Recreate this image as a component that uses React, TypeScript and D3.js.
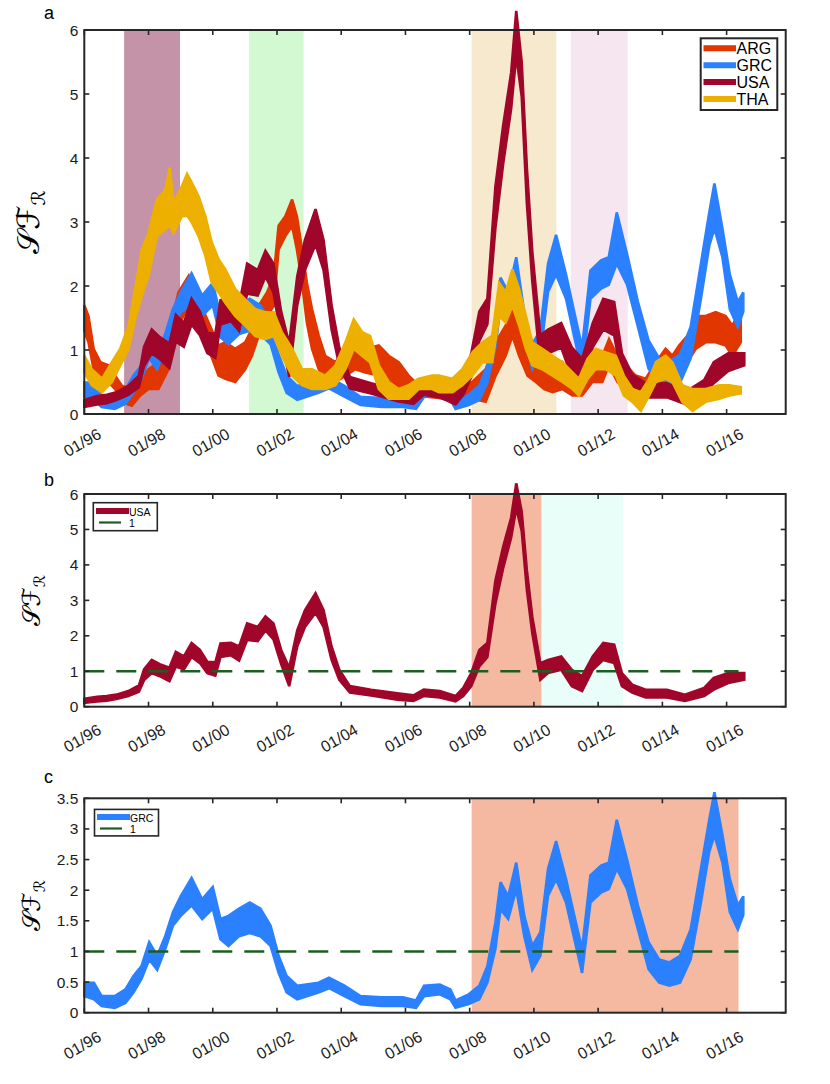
import React from "react";
import * as d3 from "d3";

// ---------- data : [time (years), low, high] ----------
const usa: [number, number, number][] = [
  [1996.0, 0.11, 0.22], [1996.4, 0.15, 0.28], [1996.7, 0.17, 0.3], [1997.0, 0.22, 0.34],
  [1997.37, 0.3, 0.44], [1997.7, 0.42, 0.6], [1997.86, 0.75, 1.05], [1998.1, 0.95, 1.32],
  [1998.35, 0.86, 1.2], [1998.65, 0.72, 1.1], [1998.85, 1.13, 1.55], [1999.1, 1.05, 1.42],
  [1999.34, 1.4, 1.8], [1999.6, 1.23, 1.6], [1999.83, 0.95, 1.27], [2000.08, 0.88, 1.25],
  [2000.24, 1.4, 1.78], [2000.57, 1.45, 1.8], [2000.82, 1.3, 1.7], [2001.07, 1.88, 2.35],
  [2001.4, 1.85, 2.25], [2001.64, 2.15, 2.55], [2001.89, 1.9, 2.35], [2002.13, 1.2, 1.6],
  [2002.38, 0.58, 1.1], [2002.63, 1.7, 2.15], [2002.87, 2.25, 2.72], [2003.2, 2.65, 3.2],
  [2003.45, 2.25, 2.72], [2003.7, 1.32, 1.7], [2003.94, 0.76, 1.04], [2004.27, 0.4, 0.58],
  [2004.93, 0.32, 0.48], [2005.75, 0.2, 0.38], [2006.25, 0.16, 0.32], [2006.57, 0.3, 0.48],
  [2007.07, 0.26, 0.44], [2007.56, 0.15, 0.3], [2007.8, 0.3, 0.53], [2008.05, 0.58, 0.95],
  [2008.3, 1.14, 1.6], [2008.55, 1.4, 1.8], [2008.8, 2.9, 3.55], [2009.04, 3.9, 4.5],
  [2009.29, 4.77, 5.33], [2009.45, 5.6, 6.3], [2009.62, 4.96, 5.5], [2009.78, 3.3, 3.85],
  [2009.95, 2.07, 2.53], [2010.2, 0.76, 1.23], [2010.44, 0.95, 1.32], [2010.85, 1.04, 1.42],
  [2011.18, 0.58, 1.04], [2011.5, 0.44, 0.86], [2011.83, 1.04, 1.42], [2012.16, 1.32, 1.8],
  [2012.5, 1.23, 1.75], [2012.74, 0.58, 0.95], [2013.06, 0.4, 0.62], [2013.48, 0.26, 0.48],
  [2014.14, 0.26, 0.48], [2014.7, 0.16, 0.34], [2015.3, 0.3, 0.53], [2015.6, 0.48, 0.81],
  [2016.05, 0.67, 0.95], [2016.55, 0.76, 0.95],
];

const grc: [number, number, number][] = [
  [1996.0, 0.27, 0.49], [1996.3, 0.22, 0.49], [1996.54, 0.11, 0.27], [1996.95, 0.08, 0.27],
  [1997.28, 0.16, 0.38], [1997.53, 0.33, 0.6], [1997.78, 0.55, 0.76], [1998.02, 0.87, 1.15],
  [1998.27, 0.7, 0.93], [1998.52, 1.04, 1.25], [1998.76, 1.42, 1.64], [1999.0, 1.58, 1.9],
  [1999.34, 1.75, 2.2], [1999.67, 1.53, 1.85], [2000.0, 1.7, 2.05], [2000.24, 1.2, 1.53],
  [2000.49, 1.09, 1.58], [2000.82, 1.25, 1.7], [2001.15, 1.3, 1.8], [2001.48, 1.25, 1.7],
  [2001.8, 1.09, 1.42], [2002.05, 0.65, 0.93], [2002.3, 0.33, 0.6], [2002.63, 0.22, 0.44],
  [2003.29, 0.33, 0.49], [2003.62, 0.4, 0.57], [2004.1, 0.27, 0.44], [2004.6, 0.14, 0.27],
  [2005.26, 0.11, 0.25], [2005.92, 0.11, 0.25], [2006.33, 0.08, 0.2], [2006.58, 0.27, 0.44],
  [2007.07, 0.3, 0.46], [2007.4, 0.22, 0.38], [2007.56, 0.08, 0.2], [2007.97, 0.14, 0.3],
  [2008.3, 0.22, 0.44], [2008.55, 0.49, 0.76], [2008.8, 1.04, 1.47], [2008.96, 1.69, 2.13],
  [2009.2, 1.53, 1.9], [2009.45, 2.02, 2.45], [2009.7, 1.25, 1.58], [2009.95, 0.7, 1.09],
  [2010.2, 0.93, 1.31], [2010.44, 1.91, 2.35], [2010.69, 2.18, 2.8], [2011.0, 1.8, 2.18],
  [2011.26, 1.2, 1.58], [2011.5, 0.65, 1.04], [2011.76, 1.8, 2.24], [2012.09, 1.96, 2.4],
  [2012.33, 2.02, 2.45], [2012.58, 2.35, 3.15], [2012.9, 2.02, 2.5], [2013.24, 1.36, 1.75],
  [2013.57, 0.71, 1.15], [2013.9, 0.49, 0.87], [2014.22, 0.44, 0.82], [2014.55, 0.49, 0.93],
  [2014.88, 0.87, 1.36], [2015.2, 1.8, 2.35], [2015.46, 2.63, 3.15], [2015.62, 2.9, 3.6],
  [2015.87, 2.45, 2.9], [2016.1, 1.64, 2.18], [2016.35, 1.36, 1.75], [2016.52, 1.6, 1.9],
];

const arg: [number, number, number][] = [
  [1996.0, 1.3, 1.7], [1996.13, 1.12, 1.53], [1996.29, 0.7, 1.02], [1996.5, 0.5, 0.81],
  [1996.75, 0.5, 0.76], [1996.96, 0.39, 0.6], [1997.17, 0.19, 0.44], [1997.48, 0.13, 0.39],
  [1997.74, 0.29, 0.55], [1998.0, 0.39, 0.7], [1998.31, 0.39, 0.81], [1998.62, 0.7, 1.22],
  [1998.93, 1.38, 1.9], [1999.25, 1.69, 2.16], [1999.56, 1.33, 1.79], [1999.87, 1.02, 1.43],
  [2000.18, 0.6, 1.07], [2000.39, 0.55, 1.12], [2000.7, 0.5, 1.02], [2001.01, 0.7, 1.12],
  [2001.22, 0.91, 1.33], [2001.43, 1.22, 1.69], [2001.69, 1.53, 1.9], [2001.9, 1.69, 2.16],
  [2002.05, 2.57, 2.94], [2002.26, 2.78, 3.09], [2002.47, 2.94, 3.35], [2002.62, 2.57, 3.09],
  [2002.78, 2.05, 2.57], [2002.93, 1.43, 2.05], [2003.09, 1.02, 1.64], [2003.3, 0.7, 1.22],
  [2003.5, 0.55, 0.91], [2003.82, 0.5, 0.81], [2004.13, 0.6, 1.02], [2004.44, 0.7, 1.07],
  [2004.75, 0.65, 1.02], [2005.17, 0.6, 1.07], [2005.48, 0.5, 0.91], [2005.79, 0.39, 0.81],
  [2006.1, 0.34, 0.6], [2006.3, 0.29, 0.5], [2007.04, 0.25, 0.45], [2007.67, 0.19, 0.39],
  [2008.08, 0.24, 0.5], [2008.5, 0.19, 0.7], [2008.81, 0.6, 1.12], [2009.12, 0.91, 1.38],
  [2009.33, 1.22, 1.64], [2009.54, 0.91, 1.38], [2009.8, 0.6, 1.02], [2010.06, 0.5, 0.91],
  [2010.32, 0.39, 0.76], [2010.58, 0.34, 0.7], [2010.89, 0.39, 0.81], [2011.2, 0.29, 0.55],
  [2011.5, 0.29, 0.6], [2011.82, 0.5, 0.81], [2012.13, 0.5, 0.91], [2012.34, 0.76, 1.17],
  [2012.6, 0.5, 0.91], [2012.86, 0.39, 0.76], [2013.17, 0.39, 0.6], [2013.48, 0.34, 0.55],
  [2013.8, 0.5, 0.81], [2014.1, 0.7, 1.02], [2014.31, 0.6, 0.91], [2014.52, 0.7, 1.07],
  [2014.78, 0.81, 1.22], [2015.04, 1.02, 1.53], [2015.35, 1.12, 1.53], [2015.66, 1.12, 1.59],
  [2015.97, 1.07, 1.53], [2016.18, 0.91, 1.38], [2016.44, 1.12, 1.64],
];

const tha: [number, number, number][] = [
  [1996.0, 0.65, 0.91], [1996.23, 0.45, 0.7], [1996.55, 0.34, 0.55], [1996.86, 0.5, 0.81],
  [1997.12, 0.76, 1.02], [1997.38, 1.02, 1.38], [1997.58, 1.48, 1.95], [1997.79, 1.85, 2.57],
  [1998.0, 2.16, 2.83], [1998.26, 2.78, 3.35], [1998.52, 2.88, 3.5], [1998.66, 2.95, 3.85],
  [1998.78, 2.83, 3.3], [1999.04, 3.09, 3.56], [1999.2, 3.1, 3.75], [1999.35, 2.99, 3.61],
  [1999.56, 2.78, 3.4], [1999.77, 2.47, 3.09], [1999.97, 2.05, 2.68], [2000.18, 1.9, 2.42],
  [2000.39, 1.74, 2.26], [2000.7, 1.53, 1.95], [2001.01, 1.38, 1.79], [2001.32, 1.22, 1.64],
  [2001.63, 1.17, 1.59], [2001.9, 1.22, 1.59], [2002.15, 0.91, 1.28], [2002.47, 0.6, 1.02],
  [2002.78, 0.45, 0.7], [2003.09, 0.39, 0.7], [2003.5, 0.39, 0.6], [2003.82, 0.45, 0.76],
  [2004.13, 0.7, 1.12], [2004.39, 1.02, 1.48], [2004.65, 0.91, 1.28], [2004.9, 0.81, 1.22],
  [2005.17, 0.39, 0.76], [2005.48, 0.24, 0.5], [2005.79, 0.24, 0.39], [2006.1, 0.24, 0.45],
  [2006.41, 0.39, 0.55], [2006.83, 0.39, 0.6], [2007.04, 0.34, 0.6], [2007.46, 0.34, 0.55],
  [2007.77, 0.45, 0.7], [2008.08, 0.6, 0.96], [2008.4, 0.81, 1.12], [2008.7, 0.81, 1.22],
  [2008.92, 1.53, 2.05], [2009.12, 1.43, 1.9], [2009.33, 1.69, 2.26], [2009.54, 1.38, 1.95],
  [2009.75, 1.02, 1.53], [2009.95, 0.76, 1.12], [2010.26, 0.7, 1.02], [2010.58, 0.6, 0.91],
  [2010.89, 0.5, 0.81], [2011.2, 0.39, 0.65], [2011.4, 0.29, 0.55], [2011.67, 0.55, 0.86],
  [2011.92, 0.7, 1.02], [2012.24, 0.7, 0.96], [2012.55, 0.6, 0.91], [2012.8, 0.29, 0.6],
  [2013.07, 0.19, 0.39], [2013.33, 0.05, 0.34], [2013.59, 0.29, 0.55], [2013.8, 0.5, 0.81],
  [2014.1, 0.55, 0.91], [2014.31, 0.5, 0.81], [2014.62, 0.19, 0.45], [2014.94, 0.05, 0.39],
  [2015.35, 0.19, 0.39], [2015.77, 0.24, 0.45], [2016.08, 0.29, 0.45], [2016.44, 0.32, 0.42],
];

const xTickYears = [1996, 1998, 2000, 2002, 2004, 2006, 2008, 2010, 2012, 2014, 2016];
const xTickLabels = ["01/96", "01/98", "01/00", "01/02", "01/04", "01/06", "01/08", "01/10", "01/12", "01/14", "01/16"];
const yTicksAB = [0, 1, 2, 3, 4, 5, 6];
const yTicksC = [0, 0.5, 1, 1.5, 2, 2.5, 3, 3.5];
const yTickLabelsC = ["0", "0.5", "1", "1.5", "2", "2.5", "3", "3.5"];

// shaded periods [start, end, colour]
const shadesA: [number, number, string][] = [
  [1997.24, 1998.98, "#c493a7"],
  [2001.13, 2002.83, "#d3f9d3"],
  [2008.06, 2010.7, "#f7e9cd"],
  [2011.15, 2012.92, "#f6e6f0"],
];
const shadesB: [number, number, string][] = [
  [2008.06, 2010.24, "#f5b9a1"],
  [2010.24, 2012.78, "#e9fdf9"],
];
const shadesC: [number, number, string][] = [[2008.06, 2016.37, "#f5b9a1"]];

const seriesNames = ["ARG", "GRC", "USA", "THA"];
const seriesColors = ["#e23600", "#2a80ff", "#a0052a", "#edb000"];
const seriesData = [arg, grc, usa, tha];
const refLevel = 1;
const refRange = [1996, 2016.37];

// ---------- layout ----------
const W = 830, H = 1084;
const X0 = 84.3, X1 = 785.7;
const xDomain = [1996, 2017.84];
const FONT = "'Liberation Sans', Arial, Helvetica, sans-serif";
const SPINE = "#262626";

type Panel = {
  top: number; bottom: number; yMax: number; yTicks: number[]; yLabels: string[];
  label: string; labelY: number; tickLabelDy: number; ylabelSize: number;
};

const panels: Panel[] = [
  { top: 30, bottom: 414, yMax: 6, yTicks: yTicksAB, yLabels: yTicksAB.map(String), label: "a", labelY: 19, tickLabelDy: 28.5, ylabelSize: 31 },
  { top: 494, bottom: 706.7, yMax: 6, yTicks: yTicksAB, yLabels: yTicksAB.map(String), label: "b", labelY: 486, tickLabelDy: 31.5, ylabelSize: 25 },
  { top: 798.3, bottom: 1012.7, yMax: 3.5, yTicks: yTicksC, yLabels: yTickLabelsC, label: "c", labelY: 783, tickLabelDy: 32.5, ylabelSize: 25 },
];

const x = d3.scaleLinear().domain(xDomain).range([X0, X1]);

function Band({ data, color, y }: { data: [number, number, number][]; color: string; y: d3.ScaleLinear<number, number> }) {
  const area = d3.area<[number, number, number]>()
    .x(d => x(d[0]))
    .y0(d => y(d[1]))
    .y1(d => y(d[2]))
    .curve(d3.curveLinear);
  return <path d={area(data) || ""} fill={color} stroke={color} strokeWidth={2.6} strokeLinejoin="miter" strokeMiterlimit={3} />;
}

function Axes({ p, y }: { p: Panel; y: d3.ScaleLinear<number, number> }) {
  const tl = 5;
  return (
    <g>
      {xTickYears.map((t, i) => (
        <g key={"xt" + i}>
          <line x1={x(t)} x2={x(t)} y1={p.bottom} y2={p.bottom - tl} stroke={SPINE} strokeWidth={1.6} />
          <line x1={x(t)} x2={x(t)} y1={p.top} y2={p.top + tl} stroke={SPINE} strokeWidth={1.6} />
          <text transform={`translate(${x(t) - 2},${p.bottom + p.tickLabelDy}) rotate(-30)`}
            textAnchor="middle" dominantBaseline="central" fontSize={16} fontFamily={FONT} fill="#1a1a1a">
            {xTickLabels[i]}
          </text>
        </g>
      ))}
      {p.yTicks.map((v, i) => (
        <g key={"yt" + i}>
          <line x1={X0} x2={X0 + tl} y1={y(v)} y2={y(v)} stroke={SPINE} strokeWidth={1.6} />
          <line x1={X1} x2={X1 - tl} y1={y(v)} y2={y(v)} stroke={SPINE} strokeWidth={1.6} />
          <text x={X0 - 6} y={y(v)} textAnchor="end" dominantBaseline="central" fontSize={15.5} fontFamily={FONT} fill="#1a1a1a">
            {p.yLabels[i]}
          </text>
        </g>
      ))}
      <rect x={X0} y={p.top} width={X1 - X0} height={p.bottom - p.top} fill="none" stroke={SPINE} strokeWidth={2} />
    </g>
  );
}

function YLabel({ p }: { p: Panel }) {
  const cy = (p.top + p.bottom) / 2;
  const cx = p.label === "a" ? 39 : 40;
  return (
    <text transform={`translate(${cx},${cy}) rotate(-90)`} textAnchor="middle" fontSize={p.ylabelSize}
      fontFamily="'DejaVu Serif', 'DejaVu Sans', serif" fill="#000">
      <tspan>{"\u{1D4AE}\u2131"}</tspan>
      <tspan fontSize={p.ylabelSize * 0.62} dy={p.ylabelSize * 0.2}>{"\u211B"}</tspan>
    </text>
  );
}

export default function App() {
  const yA = d3.scaleLinear().domain([0, panels[0].yMax]).range([panels[0].bottom, panels[0].top]);
  const yB = d3.scaleLinear().domain([0, panels[1].yMax]).range([panels[1].bottom, panels[1].top]);
  const yC = d3.scaleLinear().domain([0, panels[2].yMax]).range([panels[2].bottom, panels[2].top]);
  const pa = panels[0], pb = panels[1], pc = panels[2];

  const shadeRects = (shades: [number, number, string][], p: Panel, key: string) =>
    shades.map((s, i) => (
      <rect key={key + i} x={x(s[0])} y={p.top} width={x(s[1]) - x(s[0])} height={p.bottom - p.top} fill={s[2]} />
    ));

  const legendA = { x: 700.7, y: 38.3, w: 76.6, h: 71.7 };

  return (
    <div style={{ position: "absolute", left: 0, top: 0, width: W, height: H, background: "#fff" }}>
      <svg width={W} height={H} viewBox={`0 0 ${W} ${H}`}>
        <rect x={0} y={0} width={W} height={H} fill="#fff" />

        {/* ---- panel a ---- */}
        {shadeRects(shadesA, pa, "sa")}
        {seriesData.map((d, i) => <Band key={"a" + i} data={d} color={seriesColors[i]} y={yA} />)}
        <Axes p={pa} y={yA} />
        <g>
          <rect x={legendA.x} y={legendA.y} width={legendA.w} height={legendA.h} fill="#fff" stroke={SPINE} strokeWidth={2} />
          {seriesNames.map((n, i) => {
            const ly = 48.3 + i * 16.9;
            return (
              <g key={"lg" + i}>
                <line x1={703.5} x2={736} y1={ly} y2={ly} stroke={seriesColors[i]} strokeWidth={6} />
                <text x={736.5} y={ly} dominantBaseline="central" fontSize={16} fontFamily={FONT} fill="#000">{n}</text>
              </g>
            );
          })}
        </g>
        <text x={44} y={pa.labelY} fontSize={18} fontFamily={FONT} fill="#000">{pa.label}</text>
        <YLabel p={pa} />

        {/* ---- panel b ---- */}
        {shadeRects(shadesB, pb, "sb")}
        <Band data={usa} color={seriesColors[2]} y={yB} />
        <line x1={x(refRange[0])} x2={x(refRange[1])} y1={yB(refLevel)} y2={yB(refLevel)} stroke="#1d5e1f" strokeWidth={2.6} strokeDasharray="20,12" />
        <Axes p={pb} y={yB} />
        <g>
          <rect x={93.3} y={502.7} width={64} height={28} fill="#fff" stroke={SPINE} strokeWidth={1.6} />
          <line x1={96} x2={129} y1={511} y2={511} stroke={seriesColors[2]} strokeWidth={6} />
          <text x={129} y={511.5} dominantBaseline="central" fontSize={10.5} fontFamily={FONT}>USA</text>
          <line x1={99} x2={121} y1={522.5} y2={522.5} stroke="#1d5e1f" strokeWidth={2.2} />
          <text x={129} y={522.5} dominantBaseline="central" fontSize={10.5} fontFamily={FONT}>1</text>
        </g>
        <text x={44} y={pb.labelY} fontSize={18} fontFamily={FONT} fill="#000">{pb.label}</text>
        <YLabel p={pb} />

        {/* ---- panel c ---- */}
        {shadeRects(shadesC, pc, "sc")}
        <Band data={grc} color={seriesColors[1]} y={yC} />
        <line x1={x(refRange[0])} x2={x(refRange[1])} y1={yC(refLevel)} y2={yC(refLevel)} stroke="#1d5e1f" strokeWidth={2.6} strokeDasharray="20,12" />
        <Axes p={pc} y={yC} />
        <g>
          <rect x={94.5} y={809.4} width={64} height={26.5} fill="#fff" stroke={SPINE} strokeWidth={1.6} />
          <line x1={97} x2={130} y1={817} y2={817} stroke={seriesColors[1]} strokeWidth={6} />
          <text x={130} y={817.5} dominantBaseline="central" fontSize={10.5} fontFamily={FONT}>GRC</text>
          <line x1={100} x2={122} y1={828.5} y2={828.5} stroke="#1d5e1f" strokeWidth={2.2} />
          <text x={130} y={828.5} dominantBaseline="central" fontSize={10.5} fontFamily={FONT}>1</text>
        </g>
        <text x={44} y={pc.labelY} fontSize={18} fontFamily={FONT} fill="#000">{pc.label}</text>
        <YLabel p={pc} />
      </svg>
    </div>
  );
}
